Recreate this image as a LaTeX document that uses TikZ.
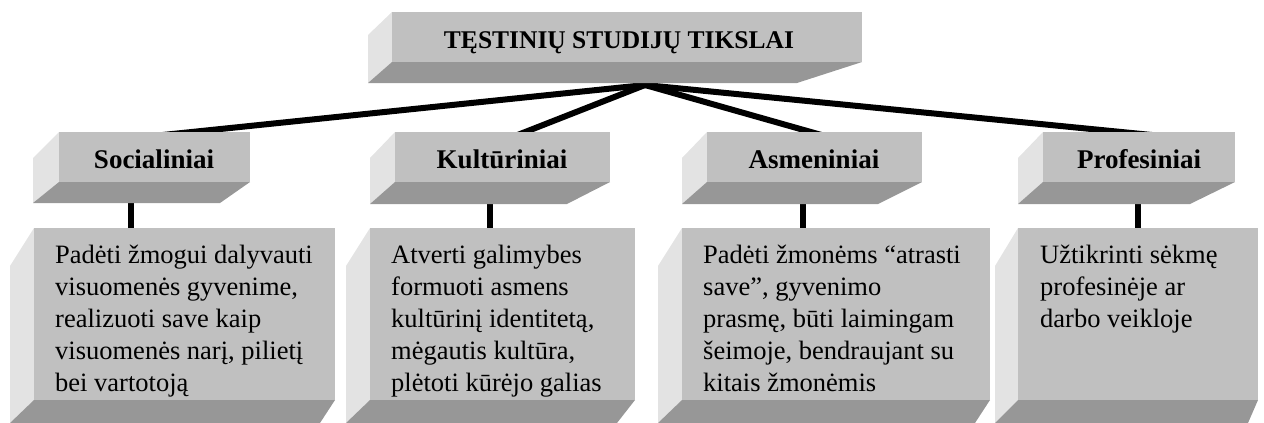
\documentclass[tikz,border=0pt]{standalone}
\usepackage{fontspec}
\setmainfont{Liberation Serif}
\definecolor{frontc}{HTML}{C0C0C0}
\definecolor{leftc}{HTML}{E3E3E3}
\definecolor{botc}{HTML}{979797}
\newcommand{\cubebox}[9]{%
  \fill[lface] (#2,#3) -- (#6,#7) -- (#6,#8) -- (#2,#5) -- cycle;
  \fill[bface] (#2,#5) -- (#4,#5) -- (#9,#8) -- (#6,#8) -- cycle;
  \node[front, anchor=north west, minimum width={(#4-#2)*1pt}, minimum height={(#5-#3)*1pt}] (#1) at (#2,#3) {};
}
\begin{document}
\begin{tikzpicture}[x=1pt,y=-1pt,
  front/.style={fill=frontc, draw=none, inner sep=0pt, outer sep=0pt},
  lface/.style={fill=leftc},
  bface/.style={fill=botc},
  conn/.style={line width=6pt, black},
  lab/.style={font=\fontsize{27}{32}\selectfont\bfseries, inner sep=0pt, anchor=base},
  body/.style={font=\fontsize{26.5}{32}\selectfont, inner sep=0pt, align=left, anchor=north west}]
\useasboundingbox (0,0) rectangle (1264,423);
% connectors
\coordinate (hub) at (645,85);
\coordinate (c1) at (153,136);
\coordinate (c2) at (515,136);
\coordinate (c3) at (825,136);
\coordinate (c4) at (1162,136);
\draw[conn] (hub) -- (c1);
\draw[conn] (hub) -- (c2);
\draw[conn] (hub) -- (c3);
\draw[conn] (hub) -- (c4);
\coordinate (v1a) at (131,200); \coordinate (v1b) at (131,230);
\coordinate (v2a) at (490,200); \coordinate (v2b) at (490,230);
\coordinate (v3a) at (803,200); \coordinate (v3b) at (803,230);
\coordinate (v4a) at (1138,200); \coordinate (v4b) at (1138,230);
\draw[conn] (v1a) -- (v1b);
\draw[conn] (v2a) -- (v2b);
\draw[conn] (v3a) -- (v3b);
\draw[conn] (v4a) -- (v4b);
% top box
\cubebox{top}{392}{12}{862}{62}{368}{35}{83}{797}
\node[lab, font=\fontsize{25.5}{30}\selectfont\bfseries] (tt) at (619,48) {TĘSTINIŲ STUDIJŲ TIKSLAI};
% small boxes
\cubebox{s1}{59}{132}{250}{182}{33}{158}{203}{220}
\cubebox{s2}{395}{132}{610}{182}{370}{158}{204}{567}
\cubebox{s3}{707}{132}{922}{182}{682}{158}{204}{878}
\cubebox{s4}{1043}{132}{1235}{182}{1018}{158}{204}{1190}
\node[lab] (l1) at (154,168) {Socialiniai};
\node[lab] (l2) at (502,168) {Kultūriniai};
\node[lab] (l3) at (814,168) {Asmeniniai};
\node[lab] (l4) at (1139,168) {Profesiniai};
% large boxes
\cubebox{b1}{34}{228}{335}{400}{10}{266}{423}{320}
\cubebox{b2}{370}{228}{635}{400}{346}{266}{423}{617}
\cubebox{b3}{682}{228}{990}{400}{658}{266}{423}{975}
\cubebox{b4}{1018}{228}{1258}{400}{995}{266}{423}{1248}
\node[body] (t1) at (55,240.6) {\strut Padėti žmogui dalyvauti\\visuomenės gyvenime,\\realizuoti save kaip\\visuomenės narį, pilietį\\bei vartotoją};
\node[body] (t2) at (391,240.6) {\strut Atverti galimybes\\formuoti asmens\\kultūrinį identitetą,\\mėgautis kultūra,\\plėtoti kūrėjo galias};
\node[body] (t3) at (703,240.6) {\strut Padėti žmonėms “atrasti\\save”, gyvenimo\\prasmę, būti laimingam\\šeimoje, bendraujant su\\kitais žmonėmis};
\node[body] (t4) at (1040,240.6) {\strut Užtikrinti sėkmę\\profesinėje ar\\darbo veikloje};
\end{tikzpicture}
\end{document}
